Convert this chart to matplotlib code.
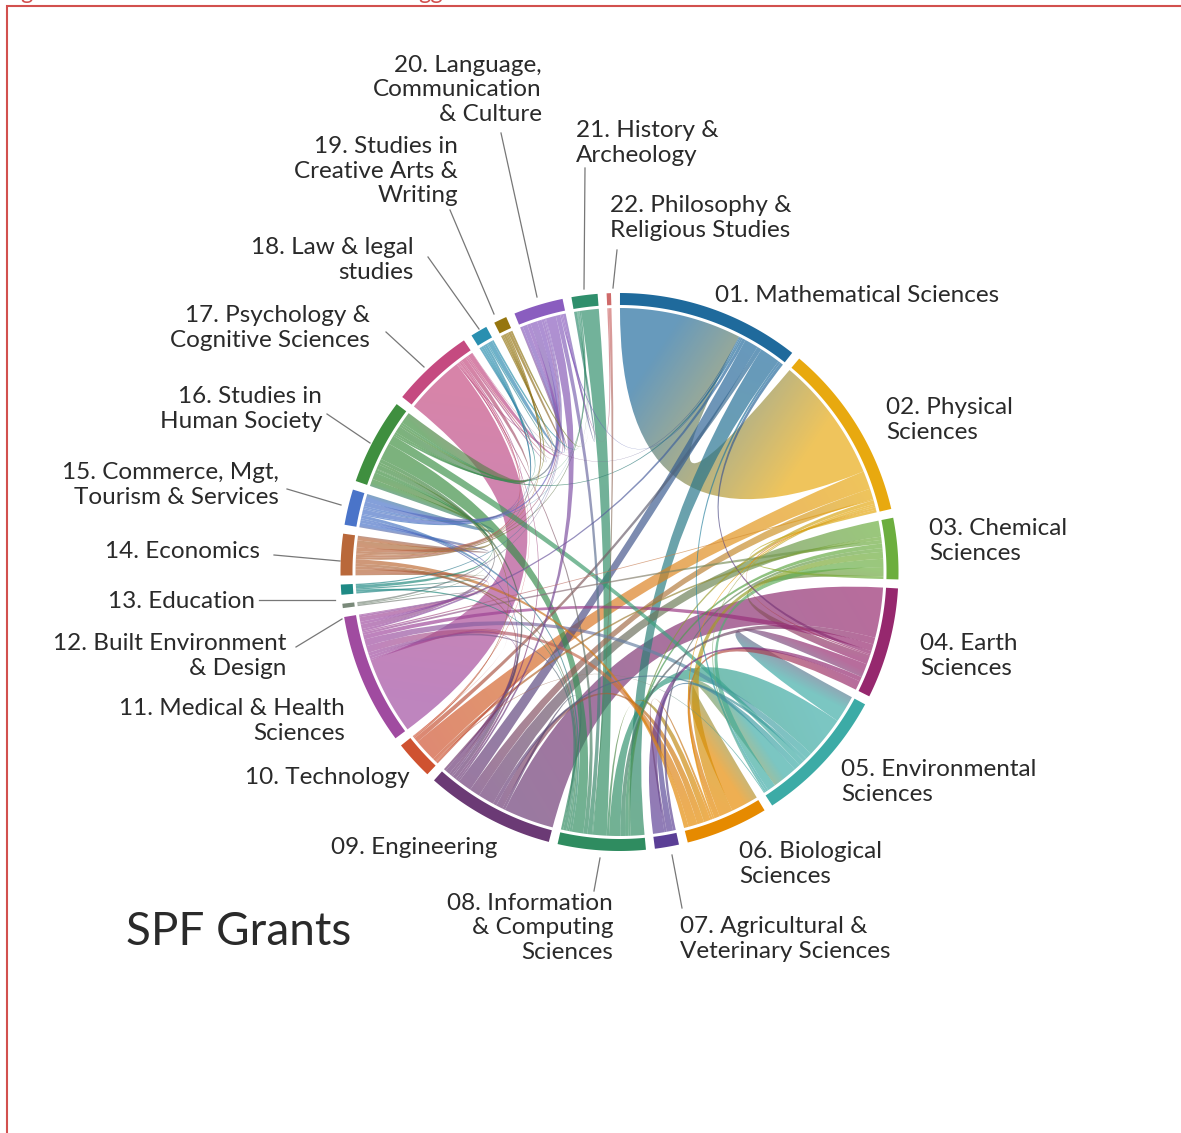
import numpy as np
import matplotlib
matplotlib.use('Agg')
import matplotlib.pyplot as plt
from matplotlib.path import Path
from matplotlib.patches import PathPatch
from matplotlib.colors import to_rgb

plt.rcParams['font.family'] = ['Lato', 'DejaVu Sans']

# field names, in order round the circle
names = ['01. Mathematical Sciences', '02. Physical\nSciences', '03. Chemical\nSciences',
         '04. Earth\nSciences', '05. Environmental\nSciences', '06. Biological\nSciences',
         '07. Agricultural &\nVeterinary Sciences', '08. Information\n& Computing\nSciences',
         '09. Engineering', '10. Technology', '11. Medical & Health\nSciences',
         '12. Built Environment\n& Design', '13. Education', '14. Economics',
         '15. Commerce, Mgt,\nTourism & Services', '16. Studies in\nHuman Society',
         '17. Psychology &\nCognitive Sciences', '18. Law & legal\nstudies',
         '19. Studies in\nCreative Arts &\nWriting', '20. Language,\nCommunication\n& Culture',
         '21. History &\nArcheology', '22. Philosophy &\nReligious Studies']

# each list: (partner field, share of this field's arc), clockwise round the arc
links_01 = [(2, 26.7), (17, .2), (20, .3), (16, .4), (11, .7), (9, 3), (10, 1), (8, 4.5), (5, .5), (4, .7)]
links_02 = [(1, 27.4), (10, 4), (9, 2.3), (11, .3), (8, .8), (6, .4), (5, .4), (4, .5), (3, .6)]
links_03 = [(9, 3.5), (10, .7), (11, .8), (8, 1), (7, .8), (6, 1.5), (5, 1.8), (4, 2), (2, .6)]
links_04 = [(9, 11), (8, 1.5), (11, 1.5), (1, .7), (2, .3), (3, 2), (5, 3), (7, 1), (6, 2)]
links_05 = [(4, 6), (8, 9.1), (11, 1.5), (9, .8), (16, 1.2), (7, 1.4), (6, 5.5), (3, 1.8), (1, .5), (2, .4), (10, .2)]
links_06 = [(5, 6), (3, 3), (4, 1.2), (2, .4), (7, .5), (8, 1.5), (9, 1.5), (11, 2), (14, 1)]
links_07 = [(3, .6), (5, 1.4), (6, .5), (4, 2.5)]
links_08 = [(1, 3), (2, .5), (3, .7), (4, 1), (5, 2.5), (6, .5), (21, 3), (22, .2), (20, 1), (17, .9), (16, 2.5),
            (15, .5), (14, .4), (13, .3), (11, .7), (9, .5)]
links_09 = [(4, 11), (8, .6), (6, 1.5), (5, .8), (3, 3.5), (2, 2.3), (1, 3), (20, .4), (17, .5), (16, .8),
            (15, .4), (14, .6), (11, 1), (10, .5)]
links_10 = [(9, .5), (5, .2), (3, .7), (2, 5), (1, 1), (16, .3), (17, .2), (11, .1)]
links_11 = [(17, 17), (10, .4), (9, .6), (8, .7), (6, 1.5), (5, 1.5), (4, 1), (3, .5), (2, .3), (1, .5), (16, 1),
            (15, .6), (14, 1), (13, .4), (12, .2)]
links_12 = [(11, .3), (16, .2), (20, .4)]
links_13 = [(11, .4), (8, .4), (14, .3), (16, .7), (20, .3)]
links_14 = [(13, .3), (11, 1), (9, .6), (8, .6), (6, 1), (21, .5), (20, .5), (19, .3), (18, .5), (17, .8), (16, 1.5), (15, 1)]
links_15 = [(14, 1), (11, .6), (9, .4), (8, .7), (21, .3), (20, 1), (19, .3), (18, .4), (17, 1), (16, 1.7)]
links_16 = [(15, 1.6), (14, 1.5), (13, .7), (12, .2), (11, 1), (10, .5), (9, .8), (8, 3.7), (5, 2), (1, .4), (21, .5),
            (20, 1.5), (19, .5), (18, .5), (17, 2.5)]
links_17 = [(11, 13), (1, .2), (8, .2), (9, .2), (10, .1), (14, .4), (15, .3), (16, 1), (18, .4), (19, .3), (20, 1), (21, .1)]
links_18 = [(17, .4), (16, .5), (15, .4), (14, .5), (19, .3), (20, 1), (21, .4)]
links_19 = [(18, .3), (17, .3), (16, .5), (15, .3), (14, .3), (20, .6), (21, .4)]
links_20 = [(19, .6), (18, 1), (17, .8), (16, 1.5), (15, 1), (14, .5), (13, .3), (12, .2), (9, 2.2), (8, 1), (1, .3), (22, .3), (21, .6)]
links_21 = [(20, .6), (19, .1), (18, .1), (17, .1), (16, .2), (15, .1), (14, .3), (8, 3.9)]
links_22 = [(20, .3), (8, .6)]
links = [links_01, links_02, links_03, links_04, links_05, links_06, links_07, links_08, links_09, links_10, links_11,
         links_12, links_13, links_14, links_15, links_16, links_17, links_18, links_19, links_20, links_21, links_22]

colours = ['#1f6a9c', '#e8a90f', '#6cae3e', '#96286e', '#3caba6', '#e68a00', '#5b3f96', '#2f8c60', '#6b3a75', '#cf5230',
           '#a04ba0', '#7a8a7a', '#1f8a85', '#b9683a', '#4a74c9', '#3f8f3f', '#c54a80', '#2a8fb0', '#96760f', '#8a5dbf',
           '#2f8f6c', '#cf6a6a']

# label layout, pixels
label_x = [715, 886, 929, 920, 841, 739, 680, 613, 497, 410, 345, 286, 255, 260, 279, 322, 370, 414, 458, 542, 576, 610]
label_y = [295, 420, 541, 656, 782, 864, 939, 928, 848, 778, 721, 656, 601, 551, 485, 409, 328, 260, 171, 90, 143, 218]
label_ha = ['left'] * 7 + ['right'] * 13 + ['left'] * 2
leaders = [((501, 133), (537, 297)), ((450, 210), (494, 314)), ((428, 257), (479, 329)), ((386, 332), (424, 367)),
           ((327, 414), (370, 443)), ((287, 489), (341, 505)), ((274, 555), (340, 561)), ((259, 600), (335, 600)),
           ((296, 647), (342, 619)), ((600, 858), (594, 891)), ((672, 855), (682, 908)), ((585, 168), (584, 289)),
           ((617, 250), (613, 288))]

cx, cy = 619.5, 572
r_out, r_in, r_chord = 279, 267, 264
gap = 1.85
start = 0.1

fig = plt.figure(figsize=(11.81, 11.33), dpi=100)
ax = fig.add_axes([0, 0, 1, 1])
ax.axis('off')


def pt(a, r):
    a = np.radians(a)
    return cx + r * np.sin(a), cy - r * np.cos(a)


# work out arc and link positions
totals = [sum(v for _, v in row) for row in links]
scale = (360 - gap * len(links)) / sum(totals)
arcs = []
ends = {}
a = start
for i, row in enumerate(links):
    s = a
    for j, v in row:
        ends[(i + 1, j)] = (a, a + v * scale)
        a += v * scale
    arcs.append((s, a))
    a += gap

# ring
for (a0, a1), col in zip(arcs, colours):
    t = np.linspace(a0, a1, 60)
    xo, yo = pt(t, r_out)
    xi, yi = pt(t[::-1], r_in)
    ax.fill(np.r_[xo, xi], np.r_[yo, yi], color=col, lw=0, zorder=3)

# chords, gradient image clipped to each ribbon
xs = np.arange(340, 900) + .5
ys = np.arange(292, 852) + .5
X, Y = np.meshgrid(xs, ys)
pairs = [k for k in ends if k[0] < k[1] and (k[1], k[0]) in ends]
pairs.sort(key=lambda k: -(ends[k][1] - ends[k][0]))

for i, j in pairs:
    a0, a1 = ends[(i, j)]
    b0, b1 = ends[(j, i)]
    ta = np.linspace(a0, a1, 30)
    tb = np.linspace(b0, b1, 30)
    xa, ya = pt(ta, r_chord)
    xb, yb = pt(tb, r_chord)
    verts = list(zip(xa, ya)) + [(cx, cy), (xb[0], yb[0])] + list(zip(xb[1:], yb[1:])) + [(cx, cy), (xa[0], ya[0])]
    codes = [Path.MOVETO] + [Path.LINETO] * 29 + [Path.CURVE3, Path.CURVE3] + [Path.LINETO] * 29 + [Path.CURVE3, Path.CURVE3]
    path = Path(verts, codes)
    patch = PathPatch(path, fc='none', ec='none', zorder=2.1)
    ax.add_patch(patch)

    p0 = np.array(pt((a0 + a1) / 2, r_chord))
    p1 = np.array(pt((b0 + b1) / 2, r_chord))
    d = p1 - p0
    f = np.clip(((X - p0[0]) * d[0] + (Y - p0[1]) * d[1]) / (d @ d), 0, 1)
    c0 = np.array(to_rgb(colours[i - 1]))
    c1 = np.array(to_rgb(colours[j - 1]))
    img = np.zeros(X.shape + (4,))
    for k in range(3):
        img[..., k] = c0[k] + (c1[k] - c0[k]) * f
    img[..., 3] = .68
    im = ax.imshow(img, extent=(340, 900, 852, 292), interpolation='nearest', zorder=2)
    im.set_clip_path(patch)

# leader lines
for p, q in leaders:
    ax.plot([p[0], q[0]], [p[1], q[1]], color='#777777', lw=.9, zorder=1)

# labels
for name, x, y, ha in zip(names, label_x, label_y, label_ha):
    ax.text(x, y, name, ha=ha, va='center', ma=ha, fontsize=17.5, color='#2a2a2a', linespacing=1.22)
ax.text(126, 932, 'SPF Grants', ha='left', va='center', fontsize=33, color='#2a2a2a')

# red frame, with the bottom of a caption cut off above it
ax.plot([7, 7, 1181], [1133, 5.5, 5.5], color='#d2504e', lw=1.5, solid_joinstyle='miter', zorder=4)
ax.text(20, -1, 'g', color='#d2504e', fontsize=17, va='baseline')
ax.text(418, -1, 'gg', color='#d2504e', fontsize=17, va='baseline')

ax.set_xlim(0, 1181)
ax.set_ylim(1133, 0)
ax.set_aspect('auto')
fig.savefig('out.png', dpi=100)
